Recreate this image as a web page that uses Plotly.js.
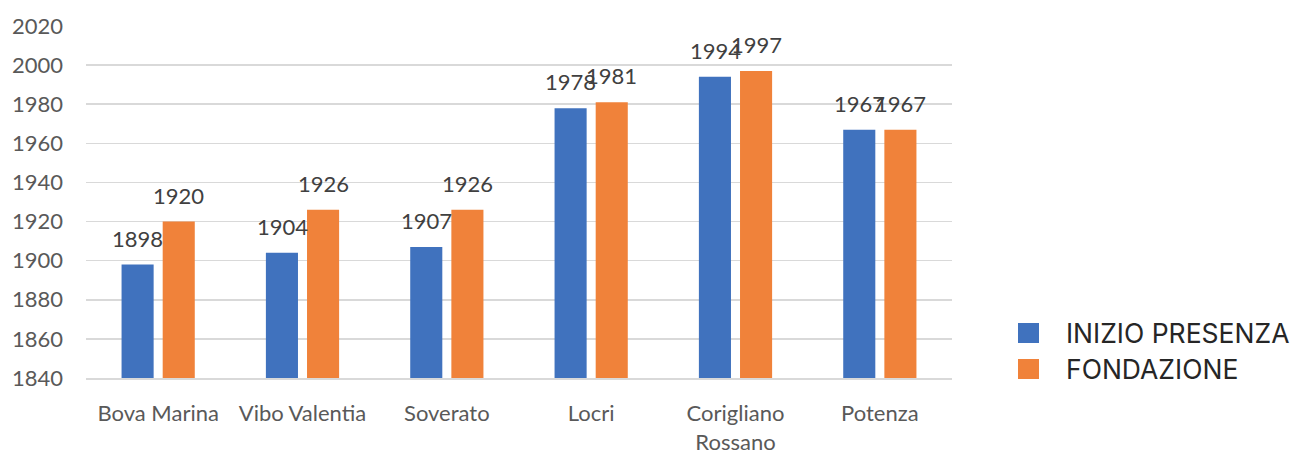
<!DOCTYPE html>
<html>
<head>
<meta charset="utf-8">
<script src="https://cdn.plot.ly/plotly-3.0.1.min.js"></script>
<style>html,body{margin:0;padding:0;background:#fff;}#chart{width:1296px;height:454px;}</style>
</head>
<body>
<div id="chart"></div>
<script>
const categories = ["Bova Marina", "Vibo Valentia", "Soverato", "Locri", "Corigliano<br>Rossano", "Potenza"];
const inizioPresenza = [1898, 1904, 1907, 1978, 1994, 1967];
const fondazione = [1920, 1926, 1926, 1981, 1997, 1967];
const seriesNames = ["INIZIO PRESENZA", "FONDAZIONE"];
const seriesColors = ["#4072BE", "#F0823A"];
const yTicks = [1840, 1860, 1880, 1900, 1920, 1940, 1960, 1980, 2000, 2020];

const W = 1296, H = 454;
const M = {l: 86, r: 344, t: 26, b: 76};
const plotW = W - M.l - M.r, plotH = H - M.t - M.b;
const px2x = p => (p - M.l) / plotW;
const px2y = p => (H - M.b - p) / plotH;

const seriesValues = [inizioPresenza, fondazione];
const traces = seriesValues.map((vals, s) => ({
  type: 'bar',
  name: seriesNames[s],
  x: categories,
  y: vals,
  marker: {color: seriesColors[s]},
  showlegend: false,
  hoverinfo: 'x+y'
}));

const tickFont = {family: 'Lato, "Open Sans", sans-serif', size: 22, color: '#595959'};
const labelFont = {family: 'Lato, "Open Sans", sans-serif', size: 22, color: '#404040'};

const annotations = [];
seriesValues.forEach((vals, s) => {
  vals.forEach((v, i) => {
    annotations.push({
      xref: 'x', yref: 'y', x: categories[i], y: v,
      xshift: s === 0 ? -20.5 : 20.5, yshift: 11,
      yanchor: 'bottom', xanchor: 'center',
      text: String(v), showarrow: false, font: labelFont
    });
  });
});

const shapes = [];
const legendRows = [333, 369];
seriesNames.forEach((n, s) => {
  const cy = legendRows[s];
  shapes.push({
    type: 'rect', xref: 'paper', yref: 'paper',
    x0: px2x(1018), x1: px2x(1039), y0: px2y(cy - 10), y1: px2y(cy + 10),
    fillcolor: seriesColors[s], line: {width: 0}
  });
  annotations.push({
    xref: 'paper', yref: 'paper', x: px2x(1064), y: px2y(cy),
    xanchor: 'left', yanchor: 'middle', text: n, showarrow: false,
    font: {family: 'Inter, "DejaVu Sans", sans-serif', size: 26.5, color: '#262626'}
  });
});

const layout = {
  width: W, height: H,
  margin: M,
  paper_bgcolor: '#ffffff', plot_bgcolor: '#ffffff',
  barmode: 'group', bargap: 0.43, bargroupgap: 0.22,
  showlegend: false,
  xaxis: {
    type: 'category', tickfont: tickFont, showgrid: false, zeroline: false,
    showline: true, linecolor: '#d9d9d9', linewidth: 1.5, ticks: '',
    ticklabelstandoff: 15, fixedrange: true
  },
  yaxis: {
    range: [1840, 2020], tickvals: yTicks, ticktext: yTicks.map(String),
    tickfont: tickFont, showgrid: true, gridcolor: '#d9d9d9', gridwidth: 1.5,
    zeroline: false, showline: false, ticks: '', ticklabelstandoff: 22, fixedrange: true
  },
  annotations: annotations,
  shapes: shapes
};

Plotly.newPlot('chart', traces, layout, {displayModeBar: false, staticPlot: true});
</script>
</body>
</html>
